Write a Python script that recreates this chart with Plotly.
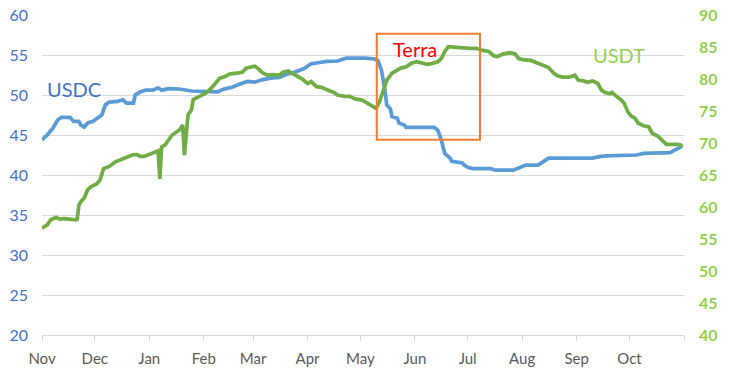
import plotly.graph_objects as go

usdc_dates = ["2021-11-01","2021-11-04","2021-11-07","2021-11-08","2021-11-10","2021-11-12","2021-11-17","2021-11-19",
    "2021-11-22","2021-11-23","2021-11-25","2021-11-27","2021-11-30","2021-12-03","2021-12-05","2021-12-07","2021-12-09",
    "2021-12-14","2021-12-17","2021-12-19","2021-12-23","2021-12-24","2021-12-27","2021-12-30","2022-01-03","2022-01-06",
    "2022-01-08","2022-01-12","2022-01-18","2022-01-25","2022-02-02","2022-02-09","2022-02-12","2022-02-17","2022-02-23",
    "2022-02-26","2022-03-02","2022-03-06","2022-03-11","2022-03-16","2022-03-20","2022-03-24","2022-03-30","2022-04-03",
    "2022-04-06","2022-04-12","2022-04-18","2022-04-20","2022-04-23","2022-05-04","2022-05-09","2022-05-11","2022-05-13",
    "2022-05-15","2022-05-16","2022-05-18","2022-05-19","2022-05-22","2022-05-23","2022-05-26","2022-05-27","2022-06-12",
    "2022-06-14","2022-06-16","2022-06-18","2022-06-21","2022-06-22","2022-06-28","2022-06-29","2022-07-01","2022-07-04",
    "2022-07-14","2022-07-17","2022-07-27","2022-07-31","2022-08-03","2022-08-10","2022-08-16","2022-08-31","2022-09-10",
    "2022-09-14","2022-09-18","2022-10-05","2022-10-09","2022-10-24","2022-10-28","2022-10-30","2022-10-31"]
usdc_values = [44.4,45.0,45.8,46.25,46.9,47.2,47.2,46.7,
    46.7,46.25,46.0,46.5,46.7,47.2,47.5,48.75,49.1,
    49.2,49.4,49.0,49.0,50.0,50.4,50.6,50.6,50.9,
    50.6,50.8,50.75,50.5,50.4,50.4,50.7,50.96,51.5,
    51.7,51.6,51.9,52.1,52.2,52.6,52.8,53.3,53.9,
    54.0,54.2,54.25,54.4,54.6,54.6,54.5,54.3,53.1,
    50.6,48.75,48.3,47.3,47.1,46.5,46.25,45.96,45.96,
    45.6,44.4,42.7,42.1,41.7,41.5,41.25,40.96,40.8,
    40.8,40.6,40.6,41.0,41.25,41.25,42.1,42.1,42.1,
    42.3,42.4,42.5,42.7,42.8,43.2,43.5,43.6]

usdt_dates = ["2021-11-01","2021-11-04","2021-11-06","2021-11-09","2021-11-11","2021-11-14","2021-11-20","2021-11-21",
    "2021-11-22","2021-11-23","2021-11-25","2021-11-27","2021-11-29","2021-12-02","2021-12-04","2021-12-06","2021-12-09",
    "2021-12-11","2021-12-13","2021-12-15","2021-12-18","2021-12-21","2021-12-23","2021-12-25","2021-12-27","2021-12-29",
    "2022-01-01","2022-01-04","2022-01-06","2022-01-07","2022-01-08","2022-01-10","2022-01-12","2022-01-14","2022-01-18",
    "2022-01-20","2022-01-21","2022-01-22","2022-01-23","2022-01-25","2022-01-26","2022-01-29","2022-02-02","2022-02-05",
    "2022-02-07","2022-02-10","2022-02-13","2022-02-16","2022-02-20","2022-02-23","2022-02-25","2022-02-28","2022-03-02",
    "2022-03-04","2022-03-06","2022-03-09","2022-03-12","2022-03-16","2022-03-18","2022-03-21","2022-03-23","2022-03-26",
    "2022-03-29","2022-04-01","2022-04-03","2022-04-06","2022-04-09","2022-04-12","2022-04-16","2022-04-18","2022-04-22",
    "2022-04-25","2022-04-28","2022-05-02","2022-05-06","2022-05-08","2022-05-10","2022-05-12","2022-05-14","2022-05-16",
    "2022-05-19","2022-05-22","2022-05-24","2022-05-27","2022-05-30","2022-06-02","2022-06-05","2022-06-08","2022-06-11",
    "2022-06-14","2022-06-16","2022-06-18","2022-06-20","2022-06-24","2022-06-28","2022-07-02","2022-07-06","2022-07-09",
    "2022-07-13","2022-07-16","2022-07-18","2022-07-21","2022-07-25","2022-07-28","2022-07-30","2022-08-02","2022-08-06",
    "2022-08-09","2022-08-13","2022-08-16","2022-08-19","2022-08-21","2022-08-24","2022-08-28","2022-08-31","2022-09-02",
    "2022-09-05","2022-09-07","2022-09-10","2022-09-13","2022-09-15","2022-09-17","2022-09-20","2022-09-21","2022-09-24",
    "2022-09-26","2022-09-28","2022-09-30","2022-10-02","2022-10-04","2022-10-06","2022-10-09","2022-10-12","2022-10-14",
    "2022-10-17","2022-10-19","2022-10-22","2022-10-28","2022-10-30","2022-10-31"]
usdt_values = [56.7,57.2,58.0,58.4,58.1,58.2,58.0,58.1,
    60.3,60.8,61.4,62.7,63.2,63.6,64.2,66.0,66.3,
    66.7,67.1,67.3,67.6,67.9,68.2,68.2,67.9,67.9,
    68.2,68.4,68.75,64.4,69.4,69.7,70.5,71.25,72.0,
    72.8,68.1,71.5,74.4,75.2,76.8,77.2,77.8,78.5,
    79.1,80.1,80.4,80.8,80.9,81.1,81.7,81.9,82.0,
    81.6,81.05,80.6,80.7,80.6,81.05,81.25,80.9,80.4,
    80.0,79.3,79.6,78.8,78.7,78.3,77.9,77.5,77.3,
    77.3,76.9,76.7,76.1,75.7,75.4,76.5,78.3,79.8,
    80.9,81.4,81.7,81.9,82.45,82.7,82.55,82.3,82.45,
    82.7,83.2,84.3,85.05,84.95,84.8,84.8,84.8,84.5,
    84.3,83.6,83.5,83.9,84.1,83.9,83.2,82.97,82.9,
    82.55,82.2,81.8,80.9,80.5,80.3,80.3,80.6,79.8,
    79.7,79.5,79.7,79.3,78.3,77.9,77.7,77.9,77.2,
    76.8,76.2,74.9,74.2,73.9,73.1,72.7,72.5,71.5,
    71.1,70.6,69.8,69.8,69.7,69.4]

month_ticks = ["2021-11-01","2021-12-01","2022-01-01","2022-02-01","2022-03-01","2022-04-01","2022-05-01",
               "2022-06-01","2022-07-01","2022-08-01","2022-09-01","2022-10-01","2022-11-01"]
month_labels = ["Nov","Dec","Jan","Feb","Mar","Apr","May","Jun","Jul","Aug","Sep","Oct",""]
left_ticks = [20, 25, 30, 35, 40, 45, 50, 55, 60]
right_ticks = [40, 45, 50, 55, 60, 65, 70, 75, 80, 85, 90]

FONT = "Lato, Calibri, 'Open Sans', sans-serif"
BLUE_TXT = "#4472C4"
GREEN_TXT = "#92D050"

fig = go.Figure()
fig.add_trace(go.Scatter(x=usdc_dates, y=usdc_values, mode="lines", name="USDC",
                         line=dict(color="#5B9BD5", width=3.75), yaxis="y"))
fig.add_trace(go.Scatter(x=usdt_dates, y=usdt_values, mode="lines", name="USDT",
                         line=dict(color="#70AD47", width=3.75), yaxis="y2"))

fig.update_layout(
    width=730, height=376,
    margin=dict(l=42, r=46, t=15, b=41),
    paper_bgcolor="white", plot_bgcolor="white",
    showlegend=False,
    font=dict(family=FONT),
    xaxis=dict(type="date", range=["2021-11-01", "2022-11-01"], tickvals=month_ticks, ticktext=month_labels,
               showgrid=False, showline=True, linecolor="#D9D9D9", linewidth=1,
               ticks="outside", ticklen=5, tickcolor="#D9D9D9", automargin=False, ticklabelstandoff=5,
               tickfont=dict(size=15, color="#595959"), zeroline=False),
    yaxis=dict(range=[20, 60], tickvals=left_ticks, showgrid=True, gridcolor="#D9D9D9", gridwidth=1,
               zeroline=False, showline=False, automargin=False, ticklabelstandoff=13,
               tickfont=dict(size=16, color=BLUE_TXT)),
    yaxis2=dict(range=[40, 90], tickvals=right_ticks, overlaying="y", side="right", showgrid=False,
                zeroline=False, showline=False, automargin=False, ticklabelstandoff=14,
                tickfont=dict(size=16, color=GREEN_TXT, weight="bold")),
)

fig.add_shape(type="rect", xref="x", yref="y", x0="2022-05-10 08:00", x1="2022-07-08",
              y0=44.4, y1=57.65, line=dict(color="#ED7D31", width=2), fillcolor="rgba(0,0,0,0)")

fig.add_annotation(x="2022-06-01", y=55.8, xref="x", yref="y", text="Terra", showarrow=False,
                   font=dict(size=20, color="#FF0000", family=FONT))
fig.add_annotation(x="2021-11-19", y=50.7, xref="x", yref="y", text="USDC", showarrow=False,
                   font=dict(size=20, color=BLUE_TXT, family=FONT))
fig.add_annotation(x="2022-09-25", y=55.0, xref="x", yref="y", text="USDT", showarrow=False,
                   font=dict(size=20, color=GREEN_TXT, family=FONT))

fig.write_html("out.html", config={"displayModeBar": False},
               post_script="document.body.style.margin='0';document.body.style.overflow='hidden';")
